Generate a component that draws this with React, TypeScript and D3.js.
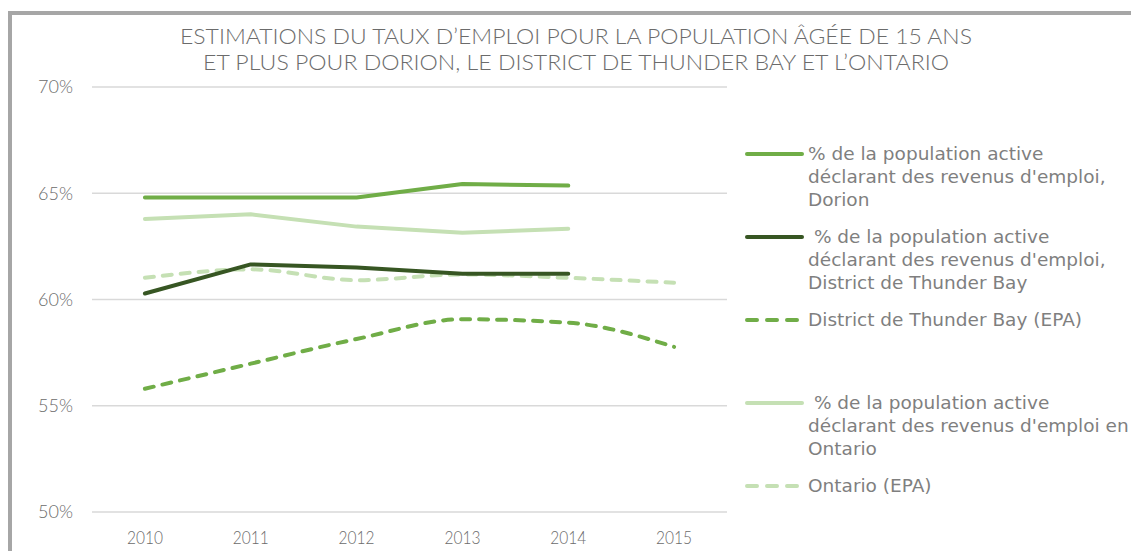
import React from "react";
import * as d3 from "d3";

const years = ["2010", "2011", "2012", "2013", "2014", "2015"];
const yTicks = [50, 55, 60, 65, 70];

const dorionEmploi = [64.8, 64.8, 64.8, 65.44, 65.36, null];
const tbEmploi = [60.28, 61.65, 61.51, 61.21, 61.21, null];
const tbEPA = [55.8, 56.98, 58.14, 59.07, 58.91, 57.77];
const ontEmploi = [63.79, 64.01, 63.43, 63.14, 63.33, null];
const ontEPA = [61.02, 61.42, 60.91, 61.18, 61.02, 60.79];

const titleLines = [
  "ESTIMATIONS DU TAUX D\u2019EMPLOI POUR LA POPULATION \u00C2G\u00C9E DE 15 ANS",
  "ET PLUS POUR DORION, LE DISTRICT DE THUNDER BAY ET L\u2019ONTARIO",
];

const series = [
  { name: "dorion", values: dorionEmploi, color: "#70AD47", dash: false, smooth: false,
    legend: ["% de la population active", "déclarant des revenus d'emploi,", "Dorion"] },
  { name: "tb", values: tbEmploi, color: "#375623", dash: false, smooth: false,
    legend: [" % de la population active", "déclarant des revenus d'emploi,", "District de Thunder Bay"] },
  { name: "tbepa", values: tbEPA, color: "#70AD47", dash: true, smooth: true,
    legend: ["District de Thunder Bay (EPA)"] },
  { name: "ont", values: ontEmploi, color: "#C5E0B4", dash: false, smooth: false,
    legend: [" % de la population active", "déclarant des revenus d'emploi en", "Ontario"] },
  { name: "ontepa", values: ontEPA, color: "#C5E0B4", dash: true, smooth: true,
    legend: ["Ontario (EPA)"] },
];

const legendY = [154, 237, 320, 403, 486];

export default function App() {
  const W = 1139, H = 559;
  const x = d3.scaleBand<string>().domain(years).range([92, 727]);
  const y = d3.scaleLinear().domain([50, 70]).range([512, 87]);
  const cx = (yr: string) => (x(yr) as number) + x.bandwidth() / 2;

  const gray = "#6B6B6B";
  const thin = "Lato, 'Open Sans', sans-serif";

  const drawOrder = [3, 4, 1, 2, 0];

  return (
    <div style={{ margin: -8 }}>
      <svg width={W} height={H} style={{ display: "block", background: "#fff" }}>
        <path d={`M10,${H + 5} L10,13 L${W + 5},13`} fill="none" stroke="#A6A6A6" strokeWidth={4} />
        {titleLines.map((t, i) => (
          <text key={i} x={576} y={44 + i * 26} textAnchor="middle" fontFamily={thin}
            fontSize={21} fill={gray} fontWeight={300}
            textLength={i === 0 ? 792 : 746} lengthAdjust="spacingAndGlyphs">{t}</text>
        ))}
        {yTicks.map((t) => (
          <g key={t}>
            <line x1={92} x2={727} y1={y(t)} y2={y(t)} stroke="#D9D9D9" strokeWidth={1.5} />
            <text x={73} y={y(t)} dy="0.35em" textAnchor="end" fontFamily={thin} fontWeight={300}
              fontSize={18} fill={gray} textLength={35} lengthAdjust="spacingAndGlyphs">{t}%</text>
          </g>
        ))}
        {years.map((yr) => (
          <text key={yr} x={cx(yr)} y={538} dy="0.35em" textAnchor="middle" fontFamily={thin} fontWeight={300}
            fontSize={18} fill={gray} textLength={36} lengthAdjust="spacingAndGlyphs">{yr}</text>
        ))}
        {drawOrder.map((si) => {
          const s = series[si];
          const pts = years.map((yr, i) => ({ yr, v: s.values[i] }));
          const line = d3.line<{ yr: string; v: number | null }>()
            .defined((d) => d.v !== null)
            .x((d) => cx(d.yr))
            .y((d) => y(d.v as number))
            .curve(s.smooth ? d3.curveMonotoneX : d3.curveLinear);
          return (
            <path key={s.name} d={line(pts) || ""} fill="none" stroke={s.color} strokeWidth={4}
              strokeLinecap="round" strokeLinejoin="round"
              strokeDasharray={s.dash ? "9,9" : undefined} />
          );
        })}
        {series.map((s, i) => (
          <g key={s.name}>
            <line x1={747} x2={s.dash ? 798 : 802} y1={legendY[i]} y2={legendY[i]} stroke={s.color}
              strokeWidth={4} strokeLinecap="round" strokeDasharray={s.dash ? "10,10" : undefined} />
            {s.legend.map((l, j) => (
              <text key={j} x={808} y={legendY[i] + j * 23} dy="0.35em" fontFamily="'DejaVu Sans', sans-serif"
                fontSize={18.5} fill="#7F7F7F" style={{ whiteSpace: "pre" }}>{l}</text>
            ))}
          </g>
        ))}
      </svg>
    </div>
  );
}
